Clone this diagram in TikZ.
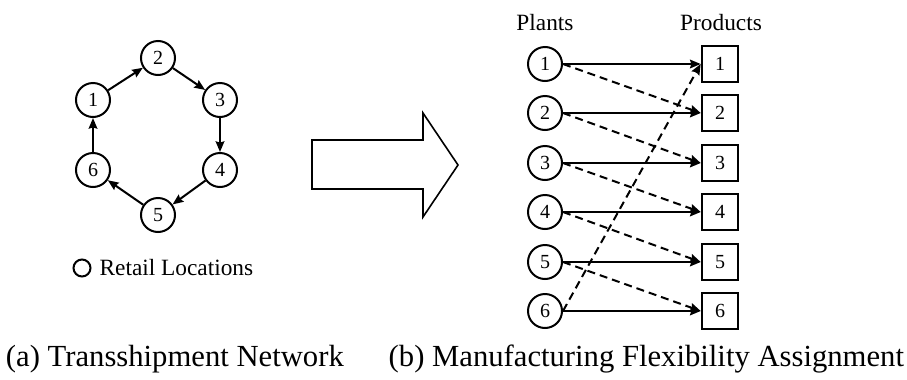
\documentclass[tikz,border=0pt]{standalone}
\usepackage{fontspec}
\setmainfont{Liberation Serif}
\usetikzlibrary{arrows.meta,positioning}
\begin{document}
\begin{tikzpicture}[x=0.75pt,y=-0.75pt,line width=1.5pt,
	loc/.style={circle,draw,minimum size=25.5pt,inner sep=0pt},
	prod/.style={rectangle,draw,minimum size=27.5pt,inner sep=0pt},
	flow/.style={-{Stealth[length=8pt,width=6.5pt,inset=1pt]}},
	backup/.style={flow,dash pattern=on 6pt off 3.75pt}]
			\newcommand{\mydigit}[1]{
				\fontsize{15}{18}\selectfont{#1}
			}\newcommand{\mylabel}[1]{
				\fontsize{17.5}{21}\selectfont{#1}
			}\newcommand{\mycaption}[1]{
				\fontsize{23}{28}\selectfont{#1}
			}%Frame
			\useasboundingbox (0,0) rectangle (907,379);
			%Transshipment network, a ring of six retail locations
			\node [loc] (n1) at (93,100) {\mydigit{1}};
			\node [loc] (n2) at (158,58) {\mydigit{2}};
			\node [loc] (n3) at (220,100) {\mydigit{3}};
			\node [loc] (n4) at (220,170) {\mydigit{4}};
			\node [loc] (n5) at (158,215) {\mydigit{5}};
			\node [loc] (n6) at (93,170) {\mydigit{6}};
			\draw [flow] (n1) -- (n2);
			\draw [flow] (n2) -- (n3);
			\draw [flow] (n3) -- (n4);
			\draw [flow] (n4) -- (n5);
			\draw [flow] (n5) -- (n6);
			\draw [flow] (n6) -- (n1);
			%Legend
			\node [circle,draw,minimum size=12.75pt,inner sep=0pt] (legend) at (82,268) {};
			\node [right=2pt of legend] (legendtext) {\mylabel{Retail Locations}};
			%Block arrow in the middle
			\draw [line width=1.2pt] (312,140) -- (423,140) -- (423,113) -- (458,165)
				-- (423,217) -- (423,189) -- (312,189) -- cycle;
			%Plants and products
			\node [] (plants) at (545,23) {\mylabel{Plants}};
			\node [] (products) at (721,23) {\mylabel{Products}};
			\foreach \i/\y in {1/64,2/113,3/163,4/212,5/262,6/311} {
				\node [loc] (p\i) at (545,\y) {\mydigit{\i}};
				\node [prod] (q\i) at (720,\y) {\mydigit{\i}};
			}
			%Primary assignment
			\foreach \i in {1,...,6} {
				\draw [flow] (p\i) -- (q\i);
			}
			%Flexible assignment, closing the chain
			\foreach \i/\j in {1/2,2/3,3/4,4/5,5/6,6/1} {
				\draw [backup] (p\i.east) -- (q\j.west);
			}
			%Captions
			\node [anchor=base west,inner sep=0pt] (capa) at (5,366) {\mycaption{(a) Transshipment Network}};
			\node [anchor=base east,inner sep=0pt] (capb) at (905,366) {\mycaption{(b) Manufacturing Flexibility Assignment}};
\end{tikzpicture}
\end{document}
